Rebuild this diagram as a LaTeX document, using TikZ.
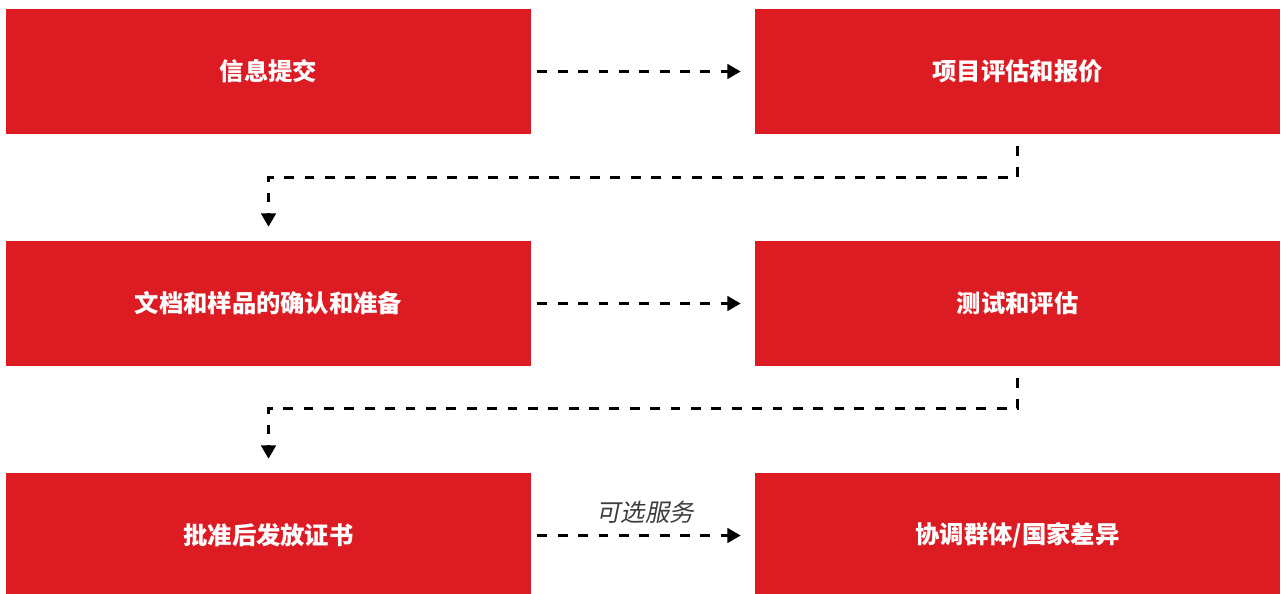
\documentclass[tikz,border=0pt]{standalone}
\usepackage{fontspec}
\setmainfont{Noto Sans CJK SC}
\newfontfamily\optfont{Noto Sans CJK SC}[FakeSlant=0.2]
\usepackage{tikz}
\usetikzlibrary{arrows.meta,positioning}
\definecolor{boxred}{RGB}{221,27,35}
\definecolor{labelgray}{RGB}{60,60,60}

\begin{document}
\begin{tikzpicture}[x=0.025cm,y=-0.025cm,
  stepbox/.style={fill=boxred,text=white,font=\bfseries\fontsize{17.3}{20}\selectfont,
    minimum width=13.125cm,minimum height=3.125cm,inner sep=0pt},
  flow/.style={black,line width=1.8pt,dash pattern=on 7pt off 7.5pt,
    -{Triangle[length=9.5pt,width=10.5pt]}}]
\useasboundingbox (0,0) rectangle (1282,593);

% boxes
\node[stepbox] (info) at (268.5,71.5) {信息提交};
\node[stepbox] (quote) at (1017.5,71.5) {项目评估和报价};
\node[stepbox] (docs) at (268.5,303.5) {文档和样品的确认和准备};
\node[stepbox] (test) at (1017.5,303.5) {测试和评估};
\node[stepbox] (cert) at (268.5,535.5) {批准后发放证书};
\node[stepbox] (harm) at (1017.5,535.5) {协调群体/国家差异};

% arrows
\draw[flow,shorten <=0.15cm,shorten >=0.35cm] (info) -- (quote);
\draw[flow,shorten <=0.3cm,shorten >=0.35cm] (quote.south) -- ++(0,43) -| (docs.north);
\draw[flow,shorten <=0.15cm,shorten >=0.35cm] (docs) -- (test);
\draw[flow,shorten <=0.3cm,shorten >=0.35cm] (test.south) -- ++(0,42) -| (cert.north);
\draw[flow,shorten <=0.15cm,shorten >=0.35cm] (cert) -- (harm)
  node[midway,above=0.16cm,xshift=0.05cm,text=labelgray,font=\optfont\fontsize{17.3}{20}\selectfont] (opt) {可选服务};
\end{tikzpicture}
\end{document}
